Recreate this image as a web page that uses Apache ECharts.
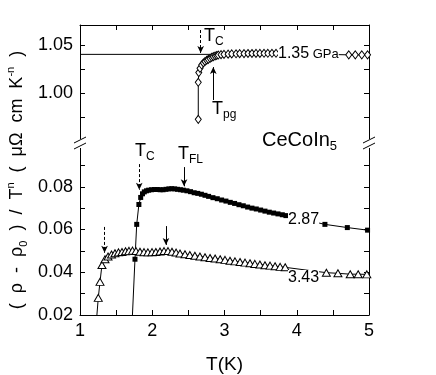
<!DOCTYPE html>
<html>
<head>
<meta charset="utf-8">
<script src="https://cdn.jsdelivr.net/npm/echarts@6/dist/echarts.min.js"></script>
<style>
html,body{margin:0;padding:0;background:#fff;}
#chart{width:436px;height:375px;}
</style>
</head>
<body>
<div id="chart"></div>
<script>
// 1.35 GPa (open diamonds, upper panel)
var tempP135 = [2.637,2.637,2.644,2.661,2.684,2.707,2.730,2.754,2.776,2.800,2.823,2.845,2.869,2.892,2.914,2.952,2.993,3.05,3.10,3.16,3.21,3.27,3.325,3.38,3.436,3.49,3.547,3.60,3.657,3.713,4.72,4.81,4.90,4.98];
var rhoP135 = [0.9728,1.0113,1.0214,1.0258,1.0292,1.0313,1.0329,1.0342,1.0351,1.0362,1.0372,1.0379,1.0386,1.0391,1.0396,1.0400,1.0403,1.0405,1.0408,1.0409,1.0410,1.0411,1.0412,1.0412,1.0413,1.0413,1.0414,1.0414,1.0414,1.0414,1.0398,1.0398,1.0398,1.0398];

// 2.87 GPa (filled squares)
var tempP287 = [1.715,1.761,1.785,1.815,1.840,1.865,1.89,1.92,1.95,1.99,2.03,2.07,2.11,2.15,2.19,2.23,2.27,2.31,2.35,2.39,2.43,2.48,2.53,2.58,2.63,2.68,2.73,2.78,2.84,2.90,2.96,3.02,3.08,3.14,3.20,3.26,3.32,3.38,3.44,3.50,3.56,3.62,3.68,3.74,3.80,3.85,4.39,4.70,4.98];
var rhoP287 = [0.012,0.0461,0.0624,0.0717,0.0750,0.0767,0.0776,0.0781,0.0784,0.0786,0.0787,0.0787,0.0786,0.0786,0.0788,0.0790,0.0791,0.0790,0.0788,0.0786,0.0784,0.0781,0.0777,0.0772,0.0769,0.0765,0.0760,0.0755,0.0749,0.0744,0.0738,0.0733,0.0727,0.0722,0.0716,0.0711,0.0705,0.0700,0.0696,0.0691,0.0686,0.0681,0.0677,0.0673,0.0669,0.0665,0.0624,0.0609,0.0597];

// 3.43 GPa (open triangles)
var tempP343 = [1.21,1.253,1.277,1.304,1.346,1.388,1.436,1.484,1.533,1.581,1.63,1.678,1.727,1.775,1.83,1.886,1.94,1.997,2.05,2.107,2.163,2.218,2.273,2.33,2.384,2.453,2.52,2.59,2.66,2.73,2.80,2.87,2.94,3.007,3.076,3.145,3.215,3.284,3.353,3.42,3.49,3.56,3.63,3.70,3.77,3.84,4.41,4.57,4.74,4.85,4.97];
var rhoP343 = [0.010,0.0280,0.0355,0.0434,0.0461,0.0474,0.0483,0.0489,0.0493,0.0495,0.0498,0.0500,0.0501,0.0499,0.0496,0.0494,0.0493,0.0494,0.0495,0.0497,0.0499,0.0499,0.0496,0.0492,0.0488,0.0484,0.0481,0.0477,0.0474,0.0470,0.0467,0.0464,0.0461,0.0458,0.0454,0.0451,0.0448,0.0445,0.0442,0.0439,0.0436,0.0433,0.0431,0.0428,0.0425,0.0423,0.0398,0.0395,0.0391,0.0391,0.0390];

// horizontal reference line in the upper panel
var refTemp = [1.0, 3.0];
var refRho = [1.0403, 1.0403];

// arrows: [T, from, to]
var arrowsTop = [[2.67, 1.0656, 1.0417], [2.845, 0.9929, 1.0271]];
var arrowsSq = [[1.82, 0.0906, 0.0786], [2.44, 0.0892, 0.0802]];
var arrowsTri = [[1.34, 0.0612, 0.0491], [2.19, 0.0616, 0.0528]];

var FONT = 'Liberation Sans, Arial, sans-serif';

function zip(xs, ys){
	var out = [];
	for (var i = 0; i < xs.length; i++) out.push([xs[i], ys[i]]);
	return out;
}

function arrowMark(list, dashedFirst){
	var data = [];
	for (var i = 0; i < list.length; i++){
		var a = list[i];
		data.push([
			{coord:[a[0], a[1]], lineStyle:{type:(i === 0 && dashedFirst) ? [3,2] : 'solid', color:'#000', width:1}},
			{coord:[a[0], a[2]]}
		]);
	}
	return {
		silent:true,
		symbol:['none','arrow'],
		symbolSize:[5,7],
		label:{show:false},
		lineStyle:{color:'#000', width:1},
		data:data
	};
}

function yAxisOf(grid, min, max, interval, right, fmt){
	return {
		type:'value', gridIndex:grid, min:min, max:max, interval:interval,
		position:right ? 'right' : 'left',
		axisLine:{show:true, onZero:false, lineStyle:{color:'#000', width:1}},
		axisTick:{show:true, inside:true, length:5, lineStyle:{color:'#000'}},
		axisLabel:{show:!right, color:'#000', fontSize:18, fontFamily:FONT, margin:7, formatter:fmt},
		splitLine:{show:false}
	};
}

function xAxisOf(grid, top){
	return {
		type:'value', gridIndex:grid, min:1, max:5, interval:0.5,
		position:top ? 'top' : 'bottom',
		axisLine:{show:true, onZero:false, lineStyle:{color:'#000', width:1}},
		axisTick:{show:true, inside:true, length:5, lineStyle:{color:'#000'}},
		axisLabel:{show:!top, color:'#000', fontSize:18, fontFamily:FONT, margin:7,
			formatter:function(v){ return Math.abs(v - Math.round(v)) < 1e-6 ? String(Math.round(v)) : ''; }},
		splitLine:{show:false},
		name:top ? '' : 'T(K)',
		nameLocation:'middle',
		nameGap:40,
		nameTextStyle:{color:'#000', fontSize:19, fontFamily:FONT}
	};
}

function subText(x, y, main, sub, size, subSize){
	return {
		type:'text', x:x, y:y, z:100,
		style:{
			text:'{m|' + main + '}{s|' + sub + '}',
			align:'left', verticalAlign:'top',
			rich:{
				m:{fontSize:size, fontFamily:FONT, fill:'#000', lineHeight:size + 6},
				s:{fontSize:subSize, fontFamily:FONT, fill:'#000', lineHeight:subSize + 1, verticalAlign:'bottom'}
			}
		}
	};
}

function breakMark(x){
	return [
		{type:'rect', z:100, shape:{x:x - 6, y:139, width:12, height:9}, style:{fill:'#fff'}},
		{type:'line', z:101, shape:{x1:x - 6, y1:143, x2:x + 6, y2:137}, style:{stroke:'#000', lineWidth:1}},
		{type:'line', z:101, shape:{x1:x - 6, y1:149, x2:x + 6, y2:143}, style:{stroke:'#000', lineWidth:1}}
	];
}

function valueLabel(x, y, rich){
	return {
		type:'text', x:x, y:y, z:100,
		style:{text:rich.text, align:'left', verticalAlign:'middle', backgroundColor:'#fff',
			rich:rich.styles}
	};
}

function render(){
	var chart = echarts.init(document.getElementById('chart'));
	var lineStyle = {color:'#000', width:1};

	var graphics = [
		{
			type:'text', x:17, y:180, rotation:Math.PI / 2, z:100,
			style:{
				text:'{m|(  ρ  -  ρ}{sub|0}{m|  )  /  T}{sup|n}{m|  (  μΩ  cm  K}{sup|-n}{m|  )}',
				align:'center', verticalAlign:'middle',
				rich:{
					m:{fontSize:18, fontFamily:FONT, fill:'#000', lineHeight:24},
					sub:{fontSize:11, fontFamily:FONT, fill:'#000', lineHeight:14, verticalAlign:'bottom'},
					sup:{fontSize:11, fontFamily:FONT, fill:'#000', lineHeight:14, verticalAlign:'top'}
				}
			}
		},
		subText(204, 24, 'T', 'C', 18, 12),
		subText(212, 97, 'T', 'pg', 18, 12),
		subText(135, 139, 'T', 'C', 18, 12),
		subText(178, 142, 'T', 'FL', 18, 12),
		subText(262, 127, 'CeCoIn', '5', 20, 13),
		valueLabel(278, 54, {text:'{a|1.35}{b| GPa}', styles:{
			a:{fontSize:16, fontFamily:FONT, fill:'#000'},
			b:{fontSize:13, fontFamily:FONT, fill:'#000'}}}),
		valueLabel(288, 220, {text:'{a|2.87}', styles:{a:{fontSize:16, fontFamily:FONT, fill:'#000'}}}),
		valueLabel(288, 278, {text:'{a|3.43}', styles:{a:{fontSize:16, fontFamily:FONT, fill:'#000'}}})
	].concat(breakMark(80)).concat(breakMark(369));

	chart.setOption({
		animation:false,
		backgroundColor:'#fff',
		grid:[
			{left:80, right:67, top:25, height:116.3},
			{left:80, right:67, top:144, height:177}
		],
		xAxis:[xAxisOf(0, true), xAxisOf(1, false)],
		yAxis:[
			yAxisOf(0, 0.95, 1.0708, 0.025, false, function(v){
				var r = Math.round(v * 1000);
				return (r % 50 === 0 && r > 950) ? v.toFixed(2) : '';
			}),
			yAxisOf(0, 0.95, 1.0708, 0.025, true),
			yAxisOf(1, 0.02, 0.10, 0.01, false, function(v){
				var r = Math.round(v * 100);
				return (r % 2 === 0 && r < 10) ? v.toFixed(2) : '';
			}),
			yAxisOf(1, 0.02, 0.10, 0.01, true)
		],
		series:[
			{
				type:'line', xAxisIndex:0, yAxisIndex:0, data:zip(refTemp, refRho),
				symbol:'none', lineStyle:lineStyle, silent:true
			},
			{
				type:'line', xAxisIndex:0, yAxisIndex:0, data:zip(tempP135, rhoP135),
				symbol:'diamond', symbolSize:[6,8], showAllSymbol:true,
				itemStyle:{color:'#fff', borderColor:'#000', borderWidth:1},
				lineStyle:lineStyle, silent:true,
				markLine:arrowMark(arrowsTop, true)
			},
			{
				type:'line', xAxisIndex:1, yAxisIndex:2, data:zip(tempP343, rhoP343),
				symbol:'triangle', symbolSize:[8,7], showAllSymbol:true,
				itemStyle:{color:'#fff', borderColor:'#000', borderWidth:1},
				lineStyle:lineStyle, silent:true,
				markLine:arrowMark(arrowsTri, true)
			},
			{
				type:'line', xAxisIndex:1, yAxisIndex:2, data:zip(tempP287, rhoP287),
				symbol:'rect', symbolSize:5, showAllSymbol:true,
				itemStyle:{color:'#000'},
				lineStyle:lineStyle, silent:true,
				markLine:arrowMark(arrowsSq, true)
			}
		],
		graphic:graphics
	});
}

render();
</script>
</body>
</html>
